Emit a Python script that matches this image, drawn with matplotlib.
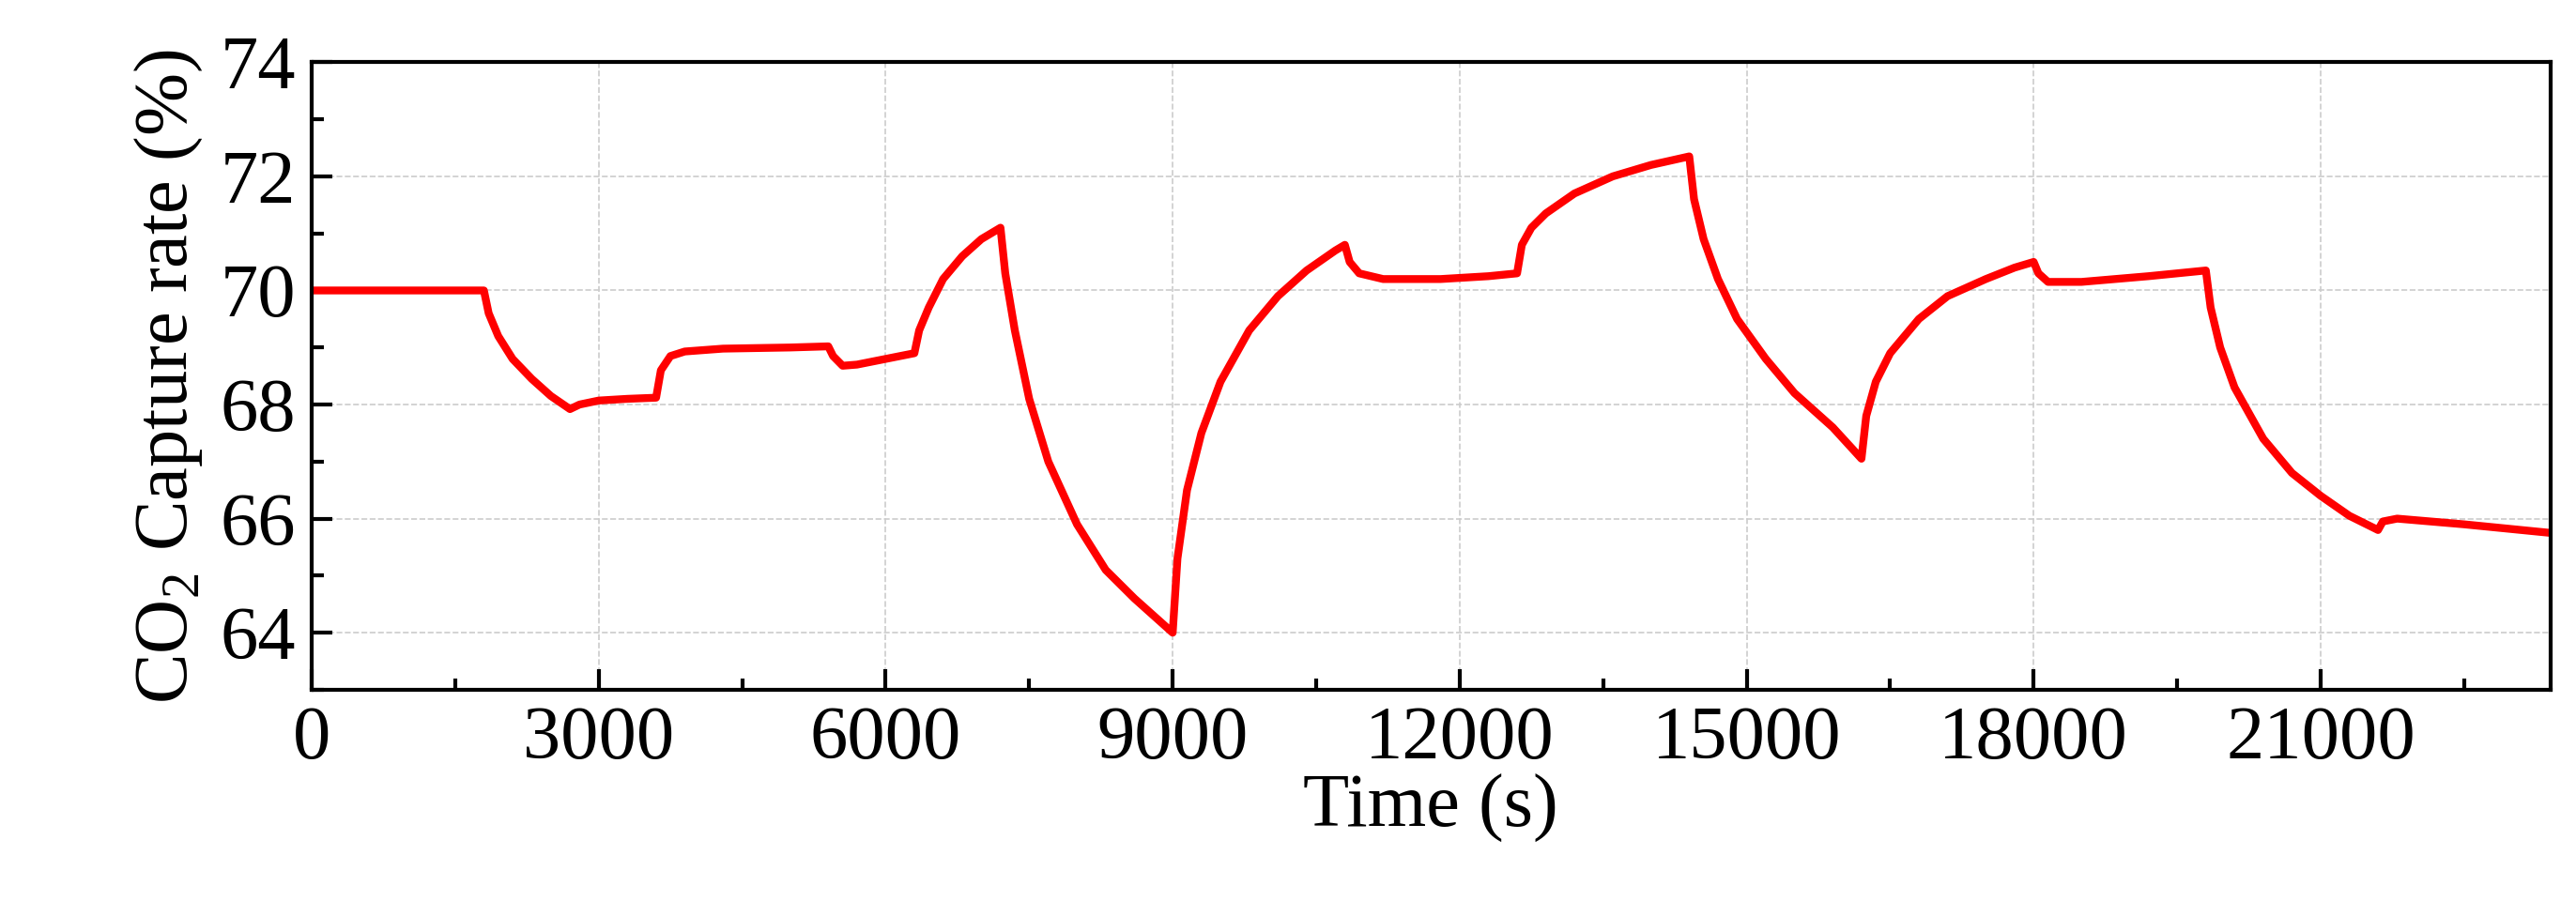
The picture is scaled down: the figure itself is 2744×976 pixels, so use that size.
import matplotlib
matplotlib.use("Agg")
import matplotlib.pyplot as plt
from matplotlib.ticker import MultipleLocator

plt.rcParams["font.family"] = ["Liberation Serif", "DejaVu Serif"]
plt.rcParams["mathtext.fontset"] = "custom"
plt.rcParams["mathtext.rm"] = "Liberation Serif"

# time (s) and CO2 capture rate (%)
time_s = [0, 1800, 1850, 1950, 2100, 2300, 2500, 2700, 2800, 3000, 3300, 3600,
          3650, 3750, 3900, 4300, 5000, 5400, 5450, 5550, 5700, 6000, 6300,
          6350, 6450, 6600, 6800, 7000, 7200, 7250, 7350, 7500, 7700, 8000,
          8300, 8600, 8800, 9000, 9050, 9150, 9300, 9500, 9800, 10100, 10400,
          10700, 10800, 10850, 10950, 11200, 11800, 12300, 12600, 12650, 12750,
          12900, 13200, 13600, 14000, 14400, 14450, 14550, 14700, 14900, 15200,
          15500, 15900, 16200, 16250, 16350, 16500, 16800, 17100, 17500, 17800,
          18000, 18050, 18150, 18500, 19200, 19800, 19850, 19950, 20100, 20400,
          20700, 21000, 21300, 21600, 21650, 21800, 22500, 23400]
capture = [70.0, 70.0, 69.6, 69.2, 68.8, 68.45, 68.15, 67.92, 68.0, 68.07, 68.1, 68.12,
           68.6, 68.85, 68.93, 68.98, 69.0, 69.02, 68.85, 68.68, 68.7, 68.8, 68.9,
           69.3, 69.7, 70.2, 70.6, 70.9, 71.1, 70.3, 69.3, 68.1, 67.0, 65.9,
           65.1, 64.6, 64.3, 64.0, 65.3, 66.5, 67.5, 68.4, 69.3, 69.9, 70.35,
           70.7, 70.8, 70.5, 70.3, 70.2, 70.2, 70.25, 70.3, 70.8, 71.1,
           71.35, 71.7, 72.0, 72.2, 72.35, 71.6, 70.9, 70.2, 69.5, 68.8,
           68.2, 67.6, 67.05, 67.8, 68.4, 68.9, 69.5, 69.9, 70.2, 70.4,
           70.5, 70.3, 70.15, 70.15, 70.25, 70.35, 69.7, 69.0, 68.3, 67.4,
           66.8, 66.4, 66.05, 65.8, 65.95, 66.0, 65.9, 65.75]

fig = plt.figure(figsize=(27.44, 9.76), dpi=100)
ax = fig.add_axes([0.121, 0.247, 0.869, 0.685])
ax.plot(time_s, capture, color="red", lw=6)

ax.set_xlim(0, 23400)
ax.set_ylim(63, 74)
ax.xaxis.set_major_locator(MultipleLocator(3000))
ax.xaxis.set_minor_locator(MultipleLocator(1500))
ax.yaxis.set_major_locator(MultipleLocator(2))
ax.yaxis.set_minor_locator(MultipleLocator(1))
ax.grid(True, which="major", ls="--", color="#cccccc", lw=1.2)
ax.tick_params(which="both", direction="in", labelsize=58, width=3,
               top=False, right=False, pad=12)
ax.tick_params(which="major", length=16)
ax.tick_params(which="minor", length=9)
for s in ax.spines.values():
    s.set_linewidth(3)

ax.set_xlabel("Time (s)", fontsize=58, labelpad=0)
ax.set_ylabel(r"CO$_\mathrm{2}$ Capture rate (%)", fontsize=58, labelpad=12)

fig.savefig("out.png", dpi=100)
